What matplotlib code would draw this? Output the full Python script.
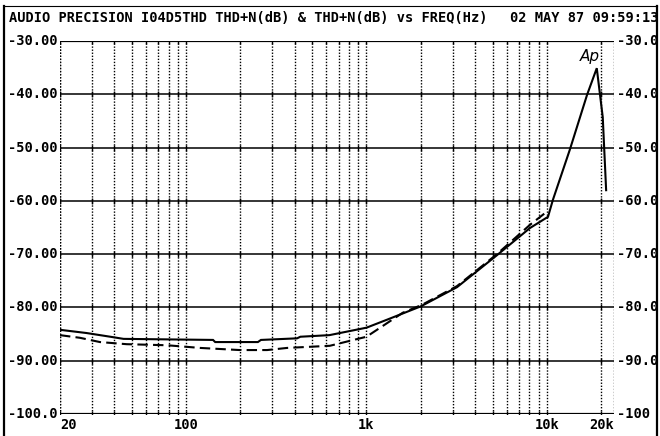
import matplotlib
matplotlib.use("Agg")
import matplotlib.pyplot as plt
from matplotlib.lines import Line2D
import numpy as np

# ---- data ----
solid_freq = [20, 28, 38, 45, 141, 145, 250, 260, 412, 430, 623, 1000, 1300, 2000,
              3175, 5285, 8055, 10140, 10800, 13400, 16700, 18900, 20400, 21300]
solid_db = [-84.2, -84.8, -85.5, -85.9, -86.1, -86.5, -86.5, -86.1, -85.8, -85.5, -85.2,
            -83.8, -82.3, -79.8, -76.2, -70.2, -65.1, -63.0, -59.8, -50.4, -40.1, -35.1,
            -44.3, -58.0]
dash_freq = [20, 25.8, 33.3, 46.9, 78.6, 119.6, 198.7, 281, 363, 626, 1000, 1588, 2033,
             3175, 5285, 8055, 9510, 10000]
dash_db = [-85.2, -85.7, -86.5, -86.9, -87.1, -87.6, -88.0, -88.0, -87.6, -87.2, -85.5,
           -81.0, -79.5, -76.0, -70.0, -64.5, -62.6, -62.0]

y_ticks = [-30, -40, -50, -60, -70, -80, -90, -100]
left_labels = ["-30.00", "-40.00", "-50.00", "-60.00", "-70.00", "-80.00", "-90.00", "-100.0"]
right_labels = ["-30.0", "-40.0", "-50.0", "-60.0", "-70.0", "-80.0", "-90.0", "-100"]
x_ticks = [20, 100, 1000, 10000, 20000]
x_labels = ["20", "100", "1k", "10k", "20k"]
title_left = "AUDIO PRECISION I04D5THD THD+N(dB) & THD+N(dB) vs FREQ(Hz)"
title_right = "02 MAY 87 09:59:13"

W, H = 660, 436
fig = plt.figure(figsize=(W / 100, H / 100), dpi=100)
fig.patch.set_facecolor("white")

left_px, right_px, top_px, bot_px = 60, 614, 41, 414
ax = fig.add_axes([left_px / W, 1 - bot_px / H, (right_px - left_px) / W, (bot_px - top_px) / H])
ax.set_xscale("log")
xmax = 20 * 10 ** ((right_px - left_px) / 180.4)
ax.set_xlim(20, xmax)
ax.set_ylim(-100, -30)
ax.set_xticks([])
ax.set_yticks([])
ax.minorticks_off()
for s in ax.spines.values():
    s.set_visible(False)

# vertical dotted grid
vlines = []
for dec in [10, 100, 1000, 10000]:
    for m in range(1, 10):
        f = dec * m
        if 20 <= f <= 20000:
            vlines.append(f)
for f in vlines + [xmax]:
    ax.axvline(f, color="black", lw=1.0, linestyle=(0, (1, 1.2)), zorder=1)
ax.axvline(20, color="black", lw=1.0, linestyle=(0, (1, 1.2)), zorder=1)

# horizontal solid grid
for y in y_ticks:
    lw = 1.6 if y in (-30, -100) else 1.1
    ax.axhline(y, color="black", lw=lw, zorder=2)
    # small cross marks at intersections
    ax.plot(vlines, [y] * len(vlines), linestyle="none", marker="|", markersize=4,
            color="black", mew=1.0, zorder=2)

# curves
ax.plot(solid_freq, solid_db, color="black", lw=1.5, zorder=4, solid_joinstyle="miter")
ax.plot(dash_freq, dash_db, color="black", lw=1.5, dashes=(5, 2.5), zorder=3)

# Ap logo
ax.text(17300, -33.0, "Ap", fontsize=11, style="italic", family="DejaVu Sans",
        ha="center", va="center", color="black", fontweight="light", zorder=5)

font = dict(family="DejaVu Sans Mono", fontweight="bold", color="black", fontsize=9.8)

def ypx(v):
    return top_px + (-30 - v) * (bot_px - top_px) / 70.0

def xpx(f):
    return left_px + 180.4 * np.log10(f / 20)

for v, lab in zip(y_ticks, left_labels):
    fig.text(58 / W, 1 - ypx(v) / H, lab, ha="right", va="center", **font)
for v, lab in zip(y_ticks, right_labels):
    fig.text(617 / W, 1 - ypx(v) / H, lab, ha="left", va="center", **font)
for f, lab in zip(x_ticks, x_labels):
    ha = "left" if lab == "20" else "center"
    xp = 60 if lab == "20" else xpx(f)
    fig.text(xp / W, 1 - 425 / H, lab, ha=ha, va="center", **font)

fig.text(9 / W, 1 - 18 / H, title_left, ha="left", va="center", **font)
fig.text(658 / W, 1 - 18 / H, title_right, ha="right", va="center", **font)

# outer frame
fig.add_artist(Line2D([4 / W, 4 / W], [0, 1 - 6 / H], color="black", lw=1.6, transform=fig.transFigure))
fig.add_artist(Line2D([657 / W, 657 / W], [0, 1 - 6 / H], color="black", lw=1.6, transform=fig.transFigure))
fig.add_artist(Line2D([4 / W, 657 / W], [1 - 6 / H, 1 - 6 / H], color="black", lw=0.8, transform=fig.transFigure))

fig.savefig("out.png", dpi=100, facecolor="white")
